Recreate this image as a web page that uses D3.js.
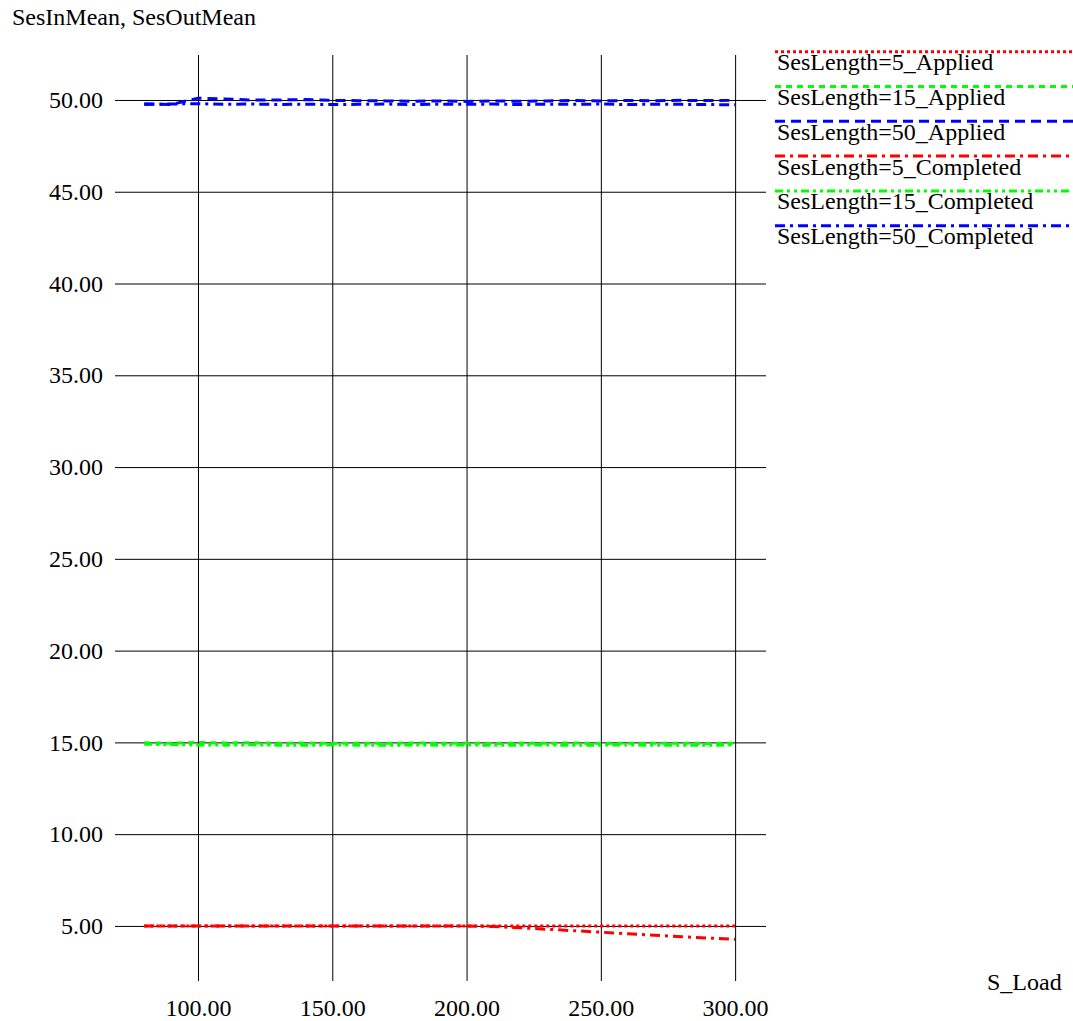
<!DOCTYPE html>
<html>
<head>
<meta charset="utf-8">
<script src="https://cdn.jsdelivr.net/npm/d3@7"></script>
<style>
  body { margin: 0; background: #fff; }
  text { font-family: "Liberation Serif", "Times New Roman", serif; font-size: 24px; fill: #000; }
</style>
</head>
<body>
<svg id="chart"></svg>
<script>
// valores
const loads = [80, 90, 100, 110, 120, 130, 140, 150, 160, 170, 180, 190, 200, 210, 220, 230, 240, 250, 260, 270, 280, 290, 300];

const len5Applied    = [5.00, 5.00, 5.00, 5.00, 5.00, 5.00, 5.00, 5.00, 5.00, 5.00, 5.00, 5.00, 5.00, 5.00, 5.00, 5.00, 5.00, 5.00, 5.00, 5.00, 5.00, 5.00, 5.00];
const len15Applied   = [14.98, 14.95, 15.00, 14.97, 14.98, 14.95, 14.97, 14.94, 14.96, 14.95, 14.97, 14.95, 14.96, 14.94, 14.96, 14.95, 14.97, 14.94, 14.96, 14.95, 14.96, 14.94, 14.95];
const len50Applied   = [49.80, 49.75, 50.10, 50.05, 50.00, 50.00, 50.02, 49.98, 49.96, 49.95, 49.93, 49.95, 49.92, 49.95, 49.93, 49.95, 49.97, 49.95, 49.97, 49.96, 49.98, 49.97, 49.98];
const len5Completed  = [5.00, 4.99, 5.00, 4.99, 5.00, 5.00, 4.99, 5.00, 4.99, 5.00, 4.99, 5.00, 4.99, 4.97, 4.90, 4.82, 4.74, 4.66, 4.57, 4.49, 4.41, 4.34, 4.27];
const len15Completed = [14.90, 14.88, 14.86, 14.85, 14.87, 14.85, 14.84, 14.86, 14.85, 14.84, 14.86, 14.85, 14.86, 14.84, 14.85, 14.86, 14.84, 14.85, 14.86, 14.84, 14.85, 14.84, 14.86];
const len50Completed = [49.75, 49.78, 49.80, 49.76, 49.78, 49.75, 49.77, 49.75, 49.76, 49.78, 49.75, 49.77, 49.76, 49.78, 49.75, 49.77, 49.76, 49.78, 49.75, 49.77, 49.76, 49.75, 49.74];

const seriesNames = ["SesLength=5_Applied", "SesLength=15_Applied", "SesLength=50_Applied",
                     "SesLength=5_Completed", "SesLength=15_Completed", "SesLength=50_Completed"];
const seriesValues = [len5Applied, len15Applied, len50Applied, len5Completed, len15Completed, len50Completed];
const seriesColors = ["#ff0000", "#00ff00", "#0000ff", "#ff0000", "#00ff00", "#0000ff"];
const seriesDashes = ["3,3", "6,5", "10,6", "10,5,3,5", "8,4,3,4,3,4", "10,5,3,5"];

const xTicks = [100, 150, 200, 250, 300];
const yTicks = [5, 10, 15, 20, 25, 30, 35, 40, 45, 50];

const width = 1073;
const height = 1021;

const svg = d3.select("#chart")
              .attr("width", width)
              .attr("height", height);

// escalas
const xScale = d3.scaleLinear().domain([69.1, 311.5]).range([115, 766]);
const yScale = d3.scaleLinear().domain([2.0, 52.45]).range([981, 55]);
const fmt = d3.format(".2f");

// rejilla horizontal + etiquetas Y
const yAxis = d3.axisLeft(yScale)
                .tickValues(yTicks)
                .tickSize(-(766 - 115))
                .tickPadding(12)
                .tickFormat(fmt);
const gy = svg.append("g").attr("transform", "translate(115,0)").call(yAxis);
gy.select(".domain").remove();
gy.selectAll(".tick line").attr("stroke", "#000").attr("stroke-width", 1);
gy.selectAll(".tick text").attr("font-size", null).attr("font-family", null);

// rejilla vertical + etiquetas X
const xAxis = d3.axisBottom(xScale)
                .tickValues(xTicks)
                .tickSize(-(981 - 55))
                .tickPadding(18)
                .tickFormat(fmt);
const gx = svg.append("g").attr("transform", "translate(0,981)").call(xAxis);
gx.select(".domain").remove();
gx.selectAll(".tick line").attr("stroke", "#000").attr("stroke-width", 1);
gx.selectAll(".tick text").attr("font-size", null).attr("font-family", null);
svg.selectAll(".tick text").style("fill", "#000");

// lineas de datos
const line = d3.line()
               .x((d, i) => xScale(loads[i]))
               .y(d => yScale(d));

svg.selectAll(".serie")
   .data(seriesValues)
   .enter()
   .append("path")
   .attr("class", "serie")
   .attr("d", d => line(d))
   .attr("fill", "none")
   .attr("stroke", (d, i) => seriesColors[i])
   .attr("stroke-width", 3)
   .attr("stroke-dasharray", (d, i) => seriesDashes[i]);

// leyenda
const legend = svg.selectAll(".leg")
   .data(seriesNames)
   .enter()
   .append("g")
   .attr("class", "leg")
   .attr("transform", (d, i) => `translate(0,${51.7 + i * 34.8})`);

legend.append("line")
   .attr("x1", 775).attr("x2", 1073)
   .attr("y1", 0).attr("y2", 0)
   .attr("stroke", (d, i) => seriesColors[i])
   .attr("stroke-width", 3)
   .attr("stroke-dasharray", (d, i) => seriesDashes[i]);

legend.append("text")
   .attr("x", 777)
   .attr("y", 18.5)
   .text(d => d);

// titulos
svg.append("text").attr("x", 12).attr("y", 25).text("SesInMean, SesOutMean");
svg.append("text").attr("x", 987).attr("y", 990).text("S_Load");
</script>
</body>
</html>
